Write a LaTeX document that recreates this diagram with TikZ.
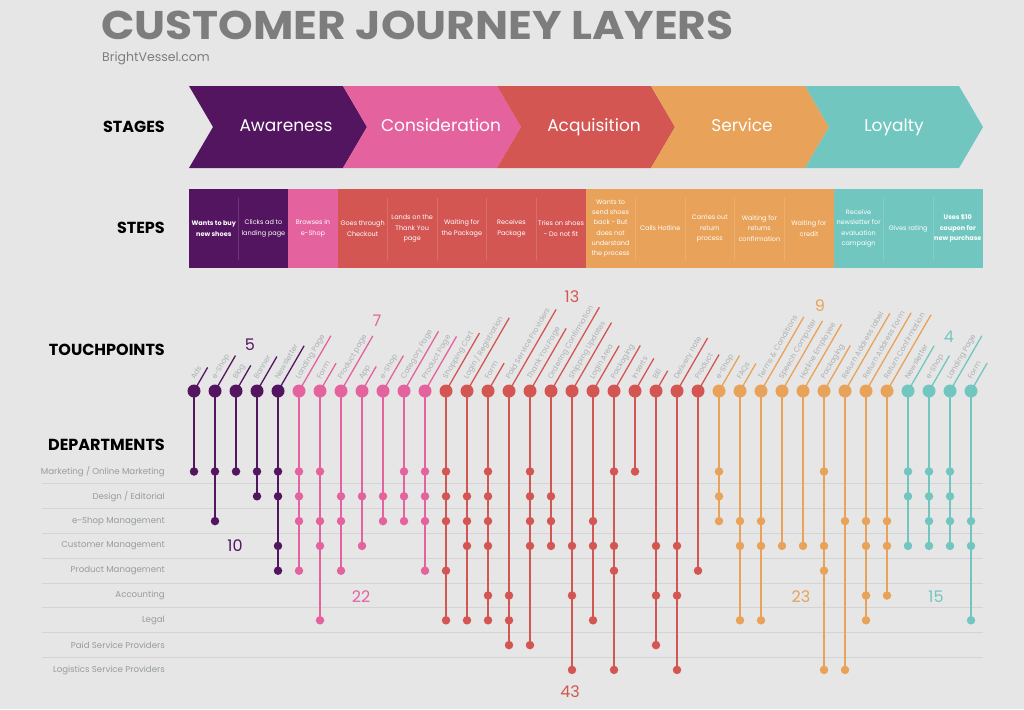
\documentclass[tikz,border=0pt]{standalone}
\usepackage{fontspec}
\setmainfont{Poppins}
\usetikzlibrary{calc,positioning}
\definecolor{bgc}{RGB}{230,230,230}
\definecolor{aw}{RGB}{84,21,96}
\definecolor{co}{RGB}{228,98,158}
\definecolor{ac}{RGB}{211,86,83}
\definecolor{se}{RGB}{232,162,89}
\definecolor{lo}{RGB}{113,199,192}
\definecolor{ttl}{RGB}{125,125,125}
\definecolor{tpgray}{RGB}{172,178,178}
\definecolor{deptgray}{RGB}{150,156,156}
\definecolor{rule}{RGB}{212,212,212}
\pgfdeclarelayer{back}
\pgfdeclarelayer{wires}
\pgfsetlayers{back,wires,main}
\tikzset{
  every picture/.style={x=1pt, y=-1pt, line cap=round, line join=round},
  % Schrift
  title/.style={ttl, font=\fontsize{40}{40}\selectfont\bfseries, inner sep=0pt},
  sub/.style={ttl, font=\fontsize{12.5}{12.5}\selectfont, inner sep=0pt},
  heading/.style={black, anchor=base east, inner sep=0pt, font=\fontsize{16}{16}\selectfont\bfseries},
  stagetxt/.style={white, anchor=base, inner sep=0pt, font=\fontsize{17}{17}\selectfont},
  steptxt/.style={white, align=center, inner sep=0pt, font=\fontsize{6.5}{10.3}\selectfont},
  dept/.style={deptgray, anchor=east, inner sep=0pt, font=\fontsize{8.6}{8.6}\selectfont},
  count/.style={font=\fontsize{16}{16}\selectfont, inner sep=0pt},
  % Punkte und Linien
  tpoint/.style={circle, fill=#1, inner sep=0pt, minimum size=13pt},
  dot/.style={circle, fill=#1, inner sep=0pt, minimum size=8.5pt},
  tplabel/.style={tpgray, rotate=60, anchor=base west, inner sep=0pt,
    font=\fontsize{7.4}{7.4}\selectfont},
  tick/.style={line width=1.3pt},
  conn/.style={line width=1.5pt},
  divider/.style={white, opacity=0.15, line width=0.6pt},
}
\begin{document}
\begin{tikzpicture}
  \begin{pgfonlayer}{back}
    \fill[bgc] (0,0) rectangle (1024,709);
    % Trennlinien der Abteilungen
    \foreach \r in {1,...,8}
      \draw[rule, line width=1pt] (42,{483.9+24.8*(\r-1)}) -- (983,{483.9+24.8*(\r-1)});
  \end{pgfonlayer}
  \useasboundingbox (0,0) rectangle (1024,709);

  % Titel
  \node[title, anchor=base west] (title) at (101,40) {\scalebox{1.1}[1]{CUSTOMER JOURNEY LAYERS}};
  \node[sub, anchor=base west] (site) at (102,61) {BrightVessel.com};

  % Zeilenköpfe
  \node[heading] (hstages) at (165,132) {STAGES};
  \node[heading] (hsteps) at (165,233.5) {STEPS};
  \node[heading] (htouch) at (165,355.5) {TOUCHPOINTS};
  \node[heading] (hdept) at (165,450.5) {DEPARTMENTS};

  % Phasen
  \foreach \x/\c in {189/aw, 343/co, 497/ac, 651/se, 805/lo}
    \fill[\c] (\x,86) -- ++(154,0) -- ++(24,41) -- ++(-24,41) -- ++(-154,0) -- ++(24,-41) -- cycle;
  \foreach \n/\x/\t in {sAw/286/Awareness, sCo/441/Consideration, sAc/594/Acquisition,
                        sSe/742/Service, sLo/894/Loyalty}
    \node[stagetxt] (\n) at (\x,131) {\t};

  % Schritte
  \fill[aw] (189,189) rectangle (288.2,268);
  \fill[co] (288.2,189) rectangle (337.8,268);
  \fill[ac] (337.8,189) rectangle (585.8,268);
  \fill[se] (585.8,189) rectangle (833.8,268);
  \fill[lo] (833.8,189) rectangle (983,268);
  \foreach \k in {2,5,6,7,8,10,11,12,13,15,16}
    \draw[divider] ({189+49.6*(\k-1)},198) -- ({189+49.6*(\k-1)},260);
  \foreach \k/\t in {
      1/{\bfseries Wants to buy\\\bfseries new shoes},
      2/{Clicks ad to\\landing page},
      3/{Browses in\\e-Shop},
      4/{Goes through\\Checkout},
      5/{Lands on the\\Thank You\\page},
      6/{Waiting for\\the Package},
      7/{Receives\\Package},
      8/{Tries on shoes\\- Do not fit},
      9/{Wants to\\send shoes\\back - But\\does not\\understand\\the process},
      10/{Calls Hotline},
      11/{Carries out\\return\\process},
      12/{Waiting for\\returns\\confirmation},
      13/{Waiting for\\credit},
      14/{Receive\\newsletter for\\evaluation\\campaign},
      15/{Gives rating},
      16/{\bfseries Uses \$10\\\bfseries coupon for\\\bfseries new purchase}}
    \node[steptxt] (st\k) at ({189+49.6*(\k-0.5)},228.5) {\t};

  % Touchpoints mit Abteilungen (Zeilen: 1 Marketing ... 9 Logistik)
  \foreach \i/\lab/\c/\rows/\last in {
      1/Ads/aw/{1}/1, 2/e-Shop/aw/{1,3}/3, 3/Blog/aw/{1}/1, 4/Banner/aw/{1,2}/2,
      5/Newsletter/aw/{1,2,4,5}/5,
      6/Landing Page/co/{1,2,3,5}/5, 7/Form/co/{1,3,4,7}/7, 8/Product page/co/{2,3,5}/5,
      9/App/co/{2,4}/4, 10/e-Shop/co/{2,3}/3, 11/Category Page/co/{1,2,3}/3,
      12/Product Page/co/{1,2,3,5}/5,
      13/Shopping Cart/ac/{1,2,3,5,7}/7, 14/{Login / Registration}/ac/{2,3,4,7}/7,
      15/Form/ac/{1,2,3,4,6,7}/7, 16/Paid Service Providers/ac/{6,7,8}/8,
      17/Thank You Page/ac/{1,2,3,4,8}/8, 18/Ordering Confirmation/ac/{2,3,4}/4,
      19/Shipping Updates/ac/{4,6,9}/9, 20/Login Area/ac/{3,4,7}/7,
      21/Packaging/ac/{1,4,5,9}/9, 22/Inserts/ac/{1}/1, 23/Bill/ac/{4,6,8}/8,
      24/Delivery note/ac/{4,6,9}/9, 25/Product/ac/{5}/5,
      26/e-Shop/se/{1,2,3}/3, 27/FAQs/se/{3,4,7}/7, 28/Terms \& Conditions/se/{3,4,7}/7,
      29/Speech Computer/se/{4}/4, 30/Hotline Employee/se/{4}/4,
      31/Packaging/se/{1,4,5,9}/9, 32/Return Address label/se/{3,9}/9,
      33/Return Address Form/se/{3,4,6,7}/7, 34/Return Confirmation/se/{3,4,6}/6,
      35/Newsletter/lo/{1,2,4}/4, 36/e-Shop/lo/{1,2,3,4}/4,
      37/Landing Page/lo/{1,2,3,4}/4, 38/Form/lo/{3,4,7}/7}{
    \pgfmathsetmacro{\cx}{194+21*(\i-1)}
    \node[tpoint=\c] (tp\i) at (\cx,391) {};
    \node[tplabel] (lb\i) at ($(tp\i.center)+(60:10pt)+(150:5pt)$) {\lab};
    \foreach \r in \rows
      \node[dot=\c] (d\i-\r) at (\cx,{471.5+24.8*(\r-1)}) {};
    \begin{pgfonlayer}{wires}
      \draw[tick, \c] (tp\i.center) -- ($(lb\i.base east)+(-30:5pt)+(60:3pt)$);
      \draw[conn, \c] (tp\i.center) -- (d\i-\last.center);
    \end{pgfonlayer}
  }

  % Abteilungen
  \foreach \r/\d in {1/{Marketing / Online Marketing}, 2/{Design / Editorial},
                     3/e-Shop Management, 4/Customer Management, 5/Product Management,
                     6/Accounting, 7/Legal, 8/Paid Service Providers,
                     9/Logistics Service Providers}
    \node[dept] (dep\r) at (165,{471.5+24.8*(\r-1)}) {\d};

  % Anzahlen
  \node[count, aw] (nAw) at (250,345) {5};
  \node[count, co] (nCo) at (377,321) {7};
  \node[count, ac] (nAc) at (572,297) {13};
  \node[count, se] (nSe) at (820,306) {9};
  \node[count, lo] (nLo) at (949,337) {4};
  \node[count, aw] (mAw) at (235,546) {10};
  \node[count, co] (mCo) at (361,597) {22};
  \node[count, ac] (mAc) at (570,692) {43};
  \node[count, se] (mSe) at (801,597) {23};
  \node[count, lo] (mLo) at (936,597) {15};
\end{tikzpicture}
\end{document}
